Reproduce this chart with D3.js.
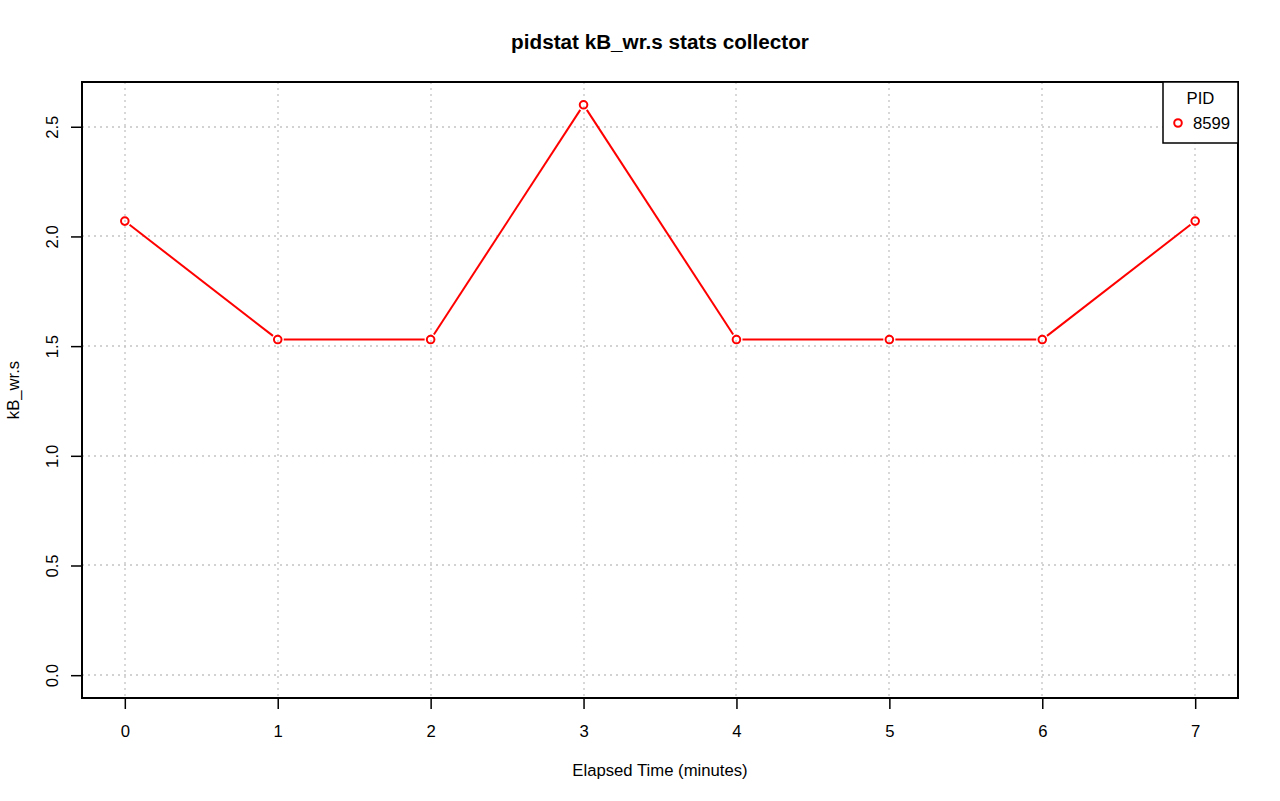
<!DOCTYPE html>
<html>
<head>
<meta charset="utf-8">
<script src="https://cdn.jsdelivr.net/npm/d3@7"></script>
<style>
  body { margin: 0; background: #fff; }
  svg { font-family: "Liberation Sans", Arial, sans-serif; }
</style>
</head>
<body>
<div id="chart"></div>
<script>
const minutes = [0, 1, 2, 3, 4, 5, 6, 7];
const kbWr = [2.07, 1.53, 1.53, 2.60, 1.53, 1.53, 1.53, 2.07];
const xTicks = [0, 1, 2, 3, 4, 5, 6, 7];
const yTicks = [0, 0.5, 1, 1.5, 2, 2.5];
const pidLabel = "8599";

const width = 1280;
const height = 801;
const margin = { top: 82, right: 42, bottom: 103, left: 82 };
const plotW = width - margin.left - margin.right;
const plotH = height - margin.top - margin.bottom;
const fs = "16.7px";

const svg = d3.select("#chart")
    .append("svg")
    .attr("width", width)
    .attr("height", height);

// R style 4% padding on the ranges
const xPad = (7 - 0) * 0.04;
const xScale = d3.scaleLinear()
    .domain([0 - xPad, 7 + xPad])
    .range([margin.left, margin.left + plotW]);

const yMax = d3.max(kbWr);
const yPad = yMax * 0.04;
const yScale = d3.scaleLinear()
    .domain([0 - yPad, yMax + yPad])
    .range([margin.top + plotH, margin.top]);

// grid
const grid = svg.append("g")
    .attr("stroke", "#c4c4c4")
    .attr("stroke-width", 1.3)
    .attr("stroke-dasharray", "2,4");

grid.selectAll(".vg")
    .data(xTicks)
    .enter()
    .append("line")
    .attr("x1", d => Math.round(xScale(d)))
    .attr("x2", d => Math.round(xScale(d)))
    .attr("y1", margin.top)
    .attr("y2", margin.top + plotH);

grid.selectAll(".hg")
    .data(yTicks)
    .enter()
    .append("line")
    .attr("x1", margin.left)
    .attr("x2", margin.left + plotW)
    .attr("y1", d => Math.round(yScale(d)))
    .attr("y2", d => Math.round(yScale(d)));

// x axis
const xAxis = svg.append("g")
    .attr("transform", `translate(0,${margin.top + plotH})`)
    .call(d3.axisBottom(xScale).tickValues(xTicks).tickSize(11).tickPadding(16).tickFormat(d3.format("d")));
xAxis.select(".domain").remove();
xAxis.selectAll("line").attr("stroke", "#000").attr("stroke-width", 1.5);
xAxis.selectAll("text")
    .attr("font-size", fs)
    .attr("fill", "#000")
    .style("font-family", "Liberation Sans, Arial, sans-serif");

// y axis
const yAxis = svg.append("g")
    .attr("transform", `translate(${margin.left},0)`)
    .call(d3.axisLeft(yScale).tickValues(yTicks).tickSize(11).tickFormat(d3.format(".1f")));
yAxis.select(".domain").remove();
yAxis.selectAll("line").attr("stroke", "#000").attr("stroke-width", 1.5);
yAxis.selectAll("text")
    .attr("font-size", fs)
    .attr("fill", "#000")
    .attr("x", null)
    .attr("text-anchor", "middle")
    .attr("transform", "translate(-30,0) rotate(-90)")
    .attr("y", 0)
    .attr("dy", "0.35em")
    .style("font-family", "Liberation Sans, Arial, sans-serif");

// series line, broken around the points (type = "b")
const r = 3.8;
const gap = 6;
const lines = svg.append("g")
    .attr("stroke", "#ff0000")
    .attr("stroke-width", 2);
for (let i = 0; i < minutes.length - 1; i++) {
    const x1 = xScale(minutes[i]), y1 = yScale(kbWr[i]);
    const x2 = xScale(minutes[i + 1]), y2 = yScale(kbWr[i + 1]);
    const len = Math.hypot(x2 - x1, y2 - y1);
    const ux = (x2 - x1) / len, uy = (y2 - y1) / len;
    lines.append("line")
        .attr("x1", x1 + ux * gap)
        .attr("y1", y1 + uy * gap)
        .attr("x2", x2 - ux * gap)
        .attr("y2", y2 - uy * gap);
}

svg.append("g")
    .selectAll("circle")
    .data(minutes)
    .enter()
    .append("circle")
    .attr("cx", (d, i) => xScale(d))
    .attr("cy", (d, i) => yScale(kbWr[i]))
    .attr("r", r)
    .attr("fill", "none")
    .attr("stroke", "#ff0000")
    .attr("stroke-width", 2);

// plot border
svg.append("rect")
    .attr("x", margin.left)
    .attr("y", margin.top)
    .attr("width", plotW)
    .attr("height", plotH)
    .attr("fill", "none")
    .attr("stroke", "#000")
    .attr("stroke-width", 2);

// legend
const legX = 1163, legY = margin.top, legW = margin.left + plotW - 1163, legH = 61;
svg.append("rect")
    .attr("x", legX)
    .attr("y", legY)
    .attr("width", legW)
    .attr("height", legH)
    .attr("fill", "#fff")
    .attr("stroke", "#000")
    .attr("stroke-width", 1.5);
svg.append("text")
    .attr("x", legX + legW / 2)
    .attr("y", legY + 22)
    .attr("text-anchor", "middle")
    .attr("font-size", fs)
    .text("PID");
svg.append("circle")
    .attr("cx", legX + 15)
    .attr("cy", legY + 41)
    .attr("r", r)
    .attr("fill", "none")
    .attr("stroke", "#ff0000")
    .attr("stroke-width", 2);
svg.append("text")
    .attr("x", legX + 30)
    .attr("y", legY + 47)
    .attr("font-size", fs)
    .text(pidLabel);

// title and axis labels
svg.append("text")
    .attr("x", margin.left + plotW / 2)
    .attr("y", 49)
    .attr("text-anchor", "middle")
    .attr("font-size", "20.7px")
    .attr("font-weight", "bold")
    .text("pidstat kB_wr.s stats collector");

svg.append("text")
    .attr("x", margin.left + plotW / 2)
    .attr("y", 776)
    .attr("text-anchor", "middle")
    .attr("font-size", fs)
    .text("Elapsed Time (minutes)");

svg.append("text")
    .attr("transform", `translate(19,${margin.top + plotH / 2}) rotate(-90)`)
    .attr("text-anchor", "middle")
    .attr("font-size", fs)
    .text("kB_wr.s");
</script>
</body>
</html>
